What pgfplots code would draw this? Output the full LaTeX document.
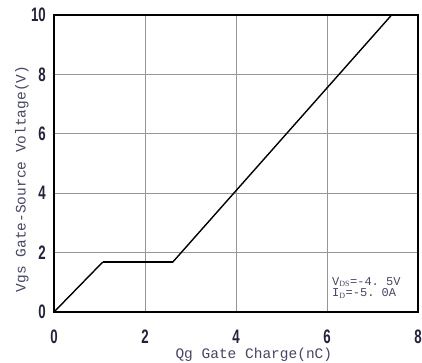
\documentclass[border=0pt]{standalone}
\usepackage{pgfplots}
\pgfplotsset{compat=1.18}
\usepackage{fontspec}
\setmainfont{Liberation Serif}
\newfontfamily\tickfont[FakeStretch=0.68]{Liberation Sans Bold}
\newfontfamily\labfont{Liberation Mono}
\definecolor{labcol}{RGB}{70,70,100}
\definecolor{tickcol}{RGB}{35,35,60}
\definecolor{gridcol}{RGB}{150,150,150}
\begin{document}
\begin{tikzpicture}
\begin{axis}[
  scale only axis,
  width=364pt, height=297pt,
  xmin=0, xmax=8, ymin=0, ymax=10,
  xtick={0,2,4,6,8}, ytick={0,2,4,6,8,10},
  grid=major,
  major grid style={gridcol, line width=0.8pt},
  axis line style={black, line width=2.6pt},
  tick style={draw=none},
  tick label style={font={\tickfont\fontsize{19.5}{19.5}\selectfont}, text=tickcol, inner sep=0pt},
  /pgf/number format/assume math mode=true,
  xticklabel style={anchor=center, yshift=-25pt},
  yticklabel style={xshift=-8pt},
  xlabel={Qg Gate Charge(nC)},
  ylabel={Vgs Gate-Source Voltage(V)},
  label style={font={\labfont\fontsize{14.5}{14.5}\selectfont}, text=labcol, inner sep=0pt},
  xlabel style={at={(axis description cs:0.549,-0.145)}, anchor=center},
  ylabel style={at={(axis description cs:-0.088,0.448)}, anchor=center},
  clip=false,
]
\addplot[black, line width=1.4pt] coordinates {(0,0) (1.07,1.68)};
\addplot[black, line width=2.6pt] coordinates {(1.07,1.68) (2.61,1.68)};
\addplot[black, line width=1.4pt] coordinates {(2.61,1.68) (7.42,10)};
\node[anchor=west, font={\labfont\fontsize{12}{12}\selectfont}, text=labcol, inner sep=0pt] at (axis cs:6.11,1.01) {V$_{\mathrm{DS}}$=-4.\ 5V};
\node[anchor=west, font={\labfont\fontsize{12}{12}\selectfont}, text=labcol, inner sep=0pt] at (axis cs:6.11,0.62) {I$_{\mathrm{D}}$=-5.\ 0A};
\end{axis}
\pgfresetboundingbox
\path (-54pt,-50pt) rectangle (368pt,312pt);
\end{tikzpicture}
\end{document}
